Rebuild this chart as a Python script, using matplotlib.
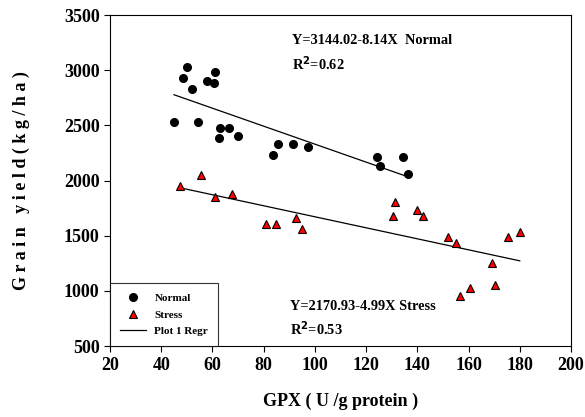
import numpy as np
import matplotlib
matplotlib.use('Agg')
import matplotlib.pyplot as plt

"""Grain yield vs GPX activity, normal and stress conditions"""

normal_x = [45, 48.5, 50, 52, 54.5, 58, 61, 60.5, 63, 62.5, 66.5, 70,
            83.7, 85.8, 91.3, 97.3, 124.3, 125.3, 134.4, 136.5]
normal_y = [2530, 2930, 3030, 2830, 2530, 2905, 2980, 2880, 2480, 2385, 2480, 2405,
            2230, 2330, 2330, 2305, 2210, 2130, 2210, 2060]

stress_x = [47.5, 55.6, 61, 67.7, 81, 85, 92.5, 95, 131.2, 130.6, 140, 142.3,
            152, 155, 156.7, 160.7, 169, 170.3, 175.5, 180]
stress_y = [1955, 2050, 1855, 1880, 1605, 1605, 1660, 1560, 1805, 1680, 1730, 1680,
            1485, 1430, 955, 1030, 1255, 1055, 1485, 1530]

# regression coefficients as printed on the chart
normal_fit = (3144.02, -8.14)
stress_fit = (2170.93, -4.99)

plt.rcParams['font.family'] = 'Liberation Serif'
plt.rcParams['font.weight'] = 'bold'

fig = plt.figure(figsize=(5.85, 4.17), dpi=100)
ax = fig.add_axes([0.188, 0.170, 0.788, 0.794])

nx = np.array([min(normal_x), max(normal_x)])
sx = np.array([min(stress_x), max(stress_x)])

ax.plot(normal_x, normal_y, 'o', color='black', markersize=5.5, label='Normal', zorder=3)
ax.plot(stress_x, stress_y, '^', color='red', markeredgecolor='black',
        markeredgewidth=0.8, markersize=6, label='Stress', zorder=3)
ax.plot(nx, normal_fit[0] + normal_fit[1] * nx, color='black', linewidth=0.9,
        label='Plot 1 Regr')
ax.plot(sx, stress_fit[0] + stress_fit[1] * sx, color='black', linewidth=0.9)

ax.set_xlim(20, 200)
ax.set_ylim(500, 3500)
ax.set_xticks(range(20, 201, 20))
ax.set_yticks(range(500, 3501, 500))
ax.tick_params(direction='out', length=4, width=0.8, labelsize=13, top=False, right=False)
for lab in ax.get_xticklabels() + ax.get_yticklabels():
    lab.set_fontweight('bold')
for s in ax.spines.values():
    s.set_linewidth(0.8)

ax.text(90.9, 3273, 'Y=3144.02-8.14X  Normal', fontsize=10.4, fontweight='bold', va='center')
ax.text(90.9, 3056, r'R$^{\mathbf{2}}$=0.62', fontsize=10.4, fontweight='bold', va='center')
ax.text(90.2, 863, 'Y=2170.93-4.99X Stress', fontsize=10.4, fontweight='bold', va='center')
ax.text(90.2, 655, r'R$^{\mathbf{2}}$=0.53', fontsize=10.4, fontweight='bold', va='center')

ax.set_xlabel('GPX ( U /g protein )', fontsize=13, fontweight='bold', labelpad=14)
ax.set_ylabel('G r a i n   y i e l d ( k g / h a )', fontsize=13, fontweight='bold', labelpad=24)

leg = ax.legend(loc='lower left', borderaxespad=0, fancybox=False, edgecolor='black',
                prop={'size': 8, 'weight': 'bold'}, handlelength=2.3, borderpad=0.9,
                labelspacing=0.6)
leg.get_frame().set_linewidth(0.8)

plt.savefig('out.png', dpi=100)
